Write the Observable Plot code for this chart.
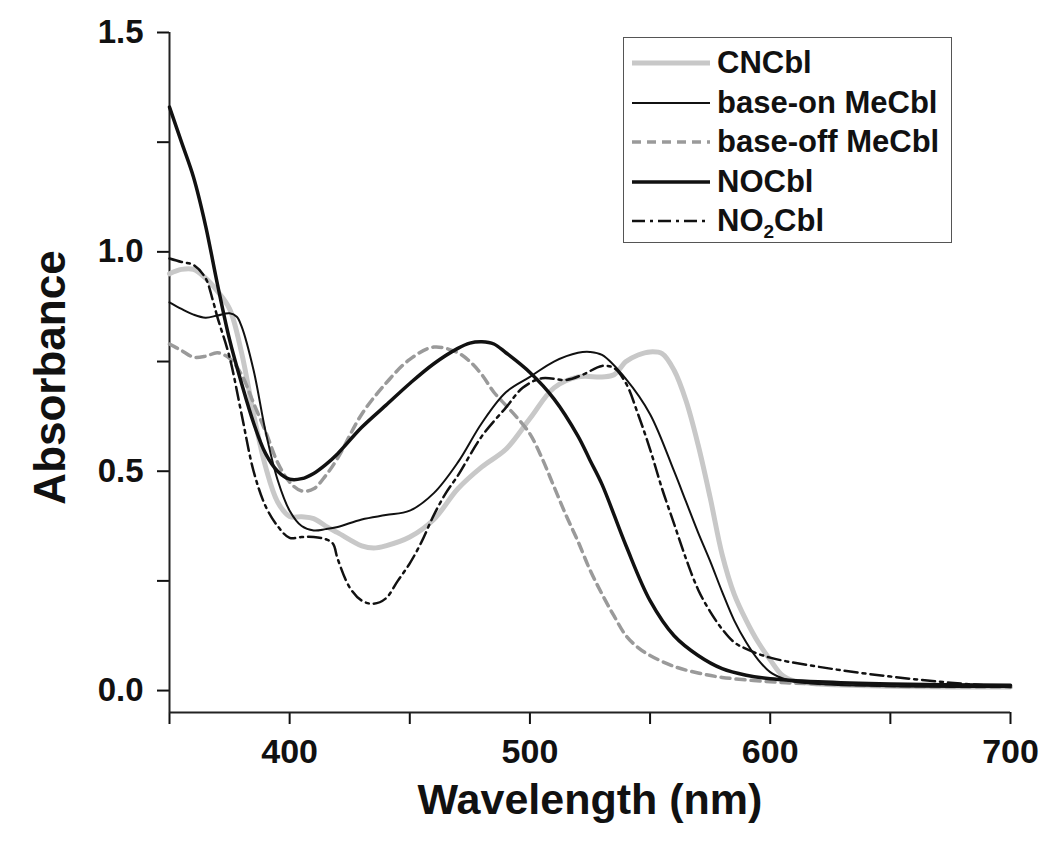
<!DOCTYPE html>
<html>
<head>
<meta charset="utf-8">
<script src="https://cdn.jsdelivr.net/npm/d3@7"></script>
<script src="https://cdn.jsdelivr.net/npm/@observablehq/plot@0.6"></script>
<style>
  body { margin: 0; background: #fff; }
  #wrap { position: relative; width: 1046px; height: 848px; font-family: "Liberation Sans", Arial, sans-serif; }
  #legend { position: absolute; left: 623px; top: 37px; width: 327px; height: 204px; border: 1.5px solid #555; background: #fff; }
  .row { position: absolute; left: 0; height: 40px; display: flex; align-items: center; }
  .row svg { margin-left: 8px; margin-right: 7px; }
  .row span { font-size: 31px; font-weight: bold; color: #111; }
  sub { font-size: 19px; vertical-align: -7px; line-height: 0; }
</style>
</head>
<body>
<div id="wrap"></div>
<script>
// ---- data ----
const seriesNames = ["CNCbl", "base-on MeCbl", "base-off MeCbl", "NOCbl", "NO2Cbl"];

const cncblX = [350,355,360,365,370,375,380,385,390,395,400,405,410,415,420,430,435,440,450,460,470,480,490,500,510,520,530,535,540,545,550,555,560,565,570,575,580,585,590,595,600,605,610,620,650,700];
const cncblY = [0.95,0.96,0.96,0.94,0.91,0.87,0.77,0.63,0.51,0.43,0.397,0.396,0.392,0.375,0.36,0.33,0.325,0.33,0.35,0.39,0.46,0.51,0.55,0.62,0.69,0.715,0.715,0.72,0.75,0.765,0.772,0.768,0.73,0.66,0.56,0.44,0.31,0.22,0.16,0.11,0.07,0.035,0.022,0.015,0.01,0.008];

const baseOnX = [350,355,360,365,370,375,378,380,385,390,395,400,405,410,415,420,430,440,450,460,470,480,490,500,510,520,525,530,540,550,560,565,570,575,580,585,590,595,600,605,610,620,650,700];
const baseOnY = [0.885,0.87,0.857,0.85,0.855,0.86,0.852,0.83,0.73,0.59,0.48,0.41,0.375,0.365,0.368,0.373,0.39,0.40,0.41,0.45,0.52,0.61,0.68,0.715,0.75,0.77,0.772,0.765,0.71,0.63,0.50,0.43,0.36,0.295,0.225,0.16,0.11,0.07,0.042,0.028,0.02,0.015,0.01,0.008];

const baseOffX = [350,355,360,365,370,375,380,385,390,395,400,405,410,415,420,430,440,450,460,470,475,480,485,490,495,500,505,510,515,520,525,530,535,540,545,550,560,570,580,600,620,650,700];
const baseOffY = [0.79,0.775,0.76,0.762,0.77,0.757,0.72,0.655,0.59,0.52,0.475,0.455,0.46,0.49,0.53,0.63,0.70,0.755,0.783,0.77,0.75,0.72,0.68,0.65,0.62,0.585,0.53,0.465,0.40,0.34,0.275,0.22,0.17,0.125,0.098,0.08,0.055,0.04,0.03,0.02,0.015,0.01,0.008];

const noCblX = [350,355,360,365,370,375,380,385,390,395,400,405,410,415,420,430,440,450,460,470,475,480,485,490,500,510,520,525,530,540,550,560,570,580,590,600,620,650,700];
const noCblY = [1.33,1.25,1.17,1.06,0.925,0.80,0.70,0.61,0.54,0.50,0.482,0.483,0.495,0.515,0.54,0.60,0.65,0.70,0.745,0.78,0.792,0.795,0.79,0.77,0.725,0.665,0.58,0.525,0.47,0.33,0.205,0.125,0.08,0.05,0.035,0.027,0.02,0.015,0.012];

const no2CblX = [350,355,360,365,368,370,375,380,385,390,395,400,405,410,415,418,420,425,430,435,440,445,450,455,460,465,470,480,490,497,505,515,522,530,535,540,545,550,555,560,565,570,575,580,585,590,600,625,650,675,700];
const no2CblY = [0.985,0.977,0.97,0.94,0.89,0.85,0.76,0.63,0.50,0.42,0.375,0.348,0.35,0.35,0.345,0.335,0.30,0.235,0.205,0.198,0.21,0.25,0.29,0.34,0.40,0.45,0.49,0.58,0.645,0.69,0.712,0.708,0.72,0.74,0.735,0.70,0.63,0.55,0.46,0.38,0.30,0.23,0.18,0.14,0.11,0.095,0.075,0.05,0.032,0.018,0.008];

const xTicks = [350,400,450,500,550,600,650,700];
const yTicks = [0,0.25,0.5,0.75,1.0,1.25,1.5];
const xDomain = [350, 700];
const yDomain = [-0.05, 1.5];

// ---- styles per series ----
const styles = {
  "CNCbl":          {stroke: "#c8c8c8", strokeWidth: 5,   dash: null},
  "base-on MeCbl":  {stroke: "#111",    strokeWidth: 2,   dash: null},
  "base-off MeCbl": {stroke: "#9a9a9a", strokeWidth: 3.5, dash: "9,6"},
  "NOCbl":          {stroke: "#111",    strokeWidth: 3.5, dash: null},
  "NO2Cbl":         {stroke: "#111",    strokeWidth: 2.5, dash: "13,5,3,5"}
};

const raw = [
  ["CNCbl", cncblX, cncblY],
  ["base-on MeCbl", baseOnX, baseOnY],
  ["base-off MeCbl", baseOffX, baseOffY],
  ["NOCbl", noCblX, noCblY],
  ["NO2Cbl", no2CblX, no2CblY]
];
const table = raw.flatMap(([s, xs, ys]) => xs.map((x, i) => ({series: s, wl: x, abs: ys[i]})));

const lineMarks = ["CNCbl", "base-off MeCbl", "NO2Cbl", "base-on MeCbl", "NOCbl"].map(s =>
  Plot.line(table.filter(d => d.series === s), {
    x: "wl", y: "abs", curve: "catmull-rom",
    stroke: styles[s].stroke, strokeWidth: styles[s].strokeWidth,
    strokeDasharray: styles[s].dash, strokeLinejoin: "round"
  })
);

const chart = Plot.plot({
  width: 1046,
  height: 848,
  marginLeft: 169,
  marginRight: 36,
  marginTop: 32,
  marginBottom: 136,
  style: {fontFamily: "'Liberation Sans', Arial, sans-serif", fontWeight: "bold", color: "#111", background: "#fff"},
  x: {domain: xDomain},
  y: {domain: yDomain},
  marks: [
    Plot.axisX({ticks: xTicks, tickSize: 12, tickPadding: 14, fontSize: 34, strokeWidth: 2,
      tickFormat: d => d % 100 === 0 ? String(d) : "", label: null}),
    Plot.axisY({ticks: yTicks, tickSize: 12, tickPadding: 14, fontSize: 33, strokeWidth: 2,
      tickFormat: d => (d * 2) % 1 === 0 ? d.toFixed(1) : "", label: null}),
    Plot.ruleX([xDomain[0]], {stroke: "#222", strokeWidth: 2}),
    Plot.ruleY([yDomain[0]], {stroke: "#222", strokeWidth: 2}),
    ...lineMarks,
    Plot.text(["Wavelength (nm)"], {frameAnchor: "bottom", textAnchor: "middle", dy: 101, fontSize: 43, fontWeight: "bold", fill: "#111"}),
    Plot.text(["Absorbance"], {frameAnchor: "left", textAnchor: "middle", lineAnchor: "middle", dx: -119, dy: 5, rotate: -90, fontSize: 44, fontWeight: "bold", fill: "#111"})
  ]
});

const wrap = document.getElementById("wrap");
wrap.appendChild(chart);

// ---- legend ----
const legend = document.createElement("div");
legend.id = "legend";
seriesNames.forEach((s, i) => {
  const row = document.createElement("div");
  row.className = "row";
  row.style.top = (5 + i * 39.5) + "px";
  const st = styles[s];
  const ns = "http://www.w3.org/2000/svg";
  const svg = document.createElementNS(ns, "svg");
  svg.setAttribute("width", 78); svg.setAttribute("height", 12);
  const ln = document.createElementNS(ns, "line");
  ln.setAttribute("x1", 0); ln.setAttribute("x2", 78); ln.setAttribute("y1", 6); ln.setAttribute("y2", 6);
  ln.setAttribute("stroke", st.stroke); ln.setAttribute("stroke-width", st.strokeWidth);
  if (st.dash) ln.setAttribute("stroke-dasharray", st.dash);
  svg.appendChild(ln);
  row.appendChild(svg);
  const label = document.createElement("span");
  if (s === "NO2Cbl") label.innerHTML = "NO<sub>2</sub>Cbl"; else label.textContent = s;
  row.appendChild(label);
  legend.appendChild(row);
});
wrap.appendChild(legend);
</script>
</body>
</html>
